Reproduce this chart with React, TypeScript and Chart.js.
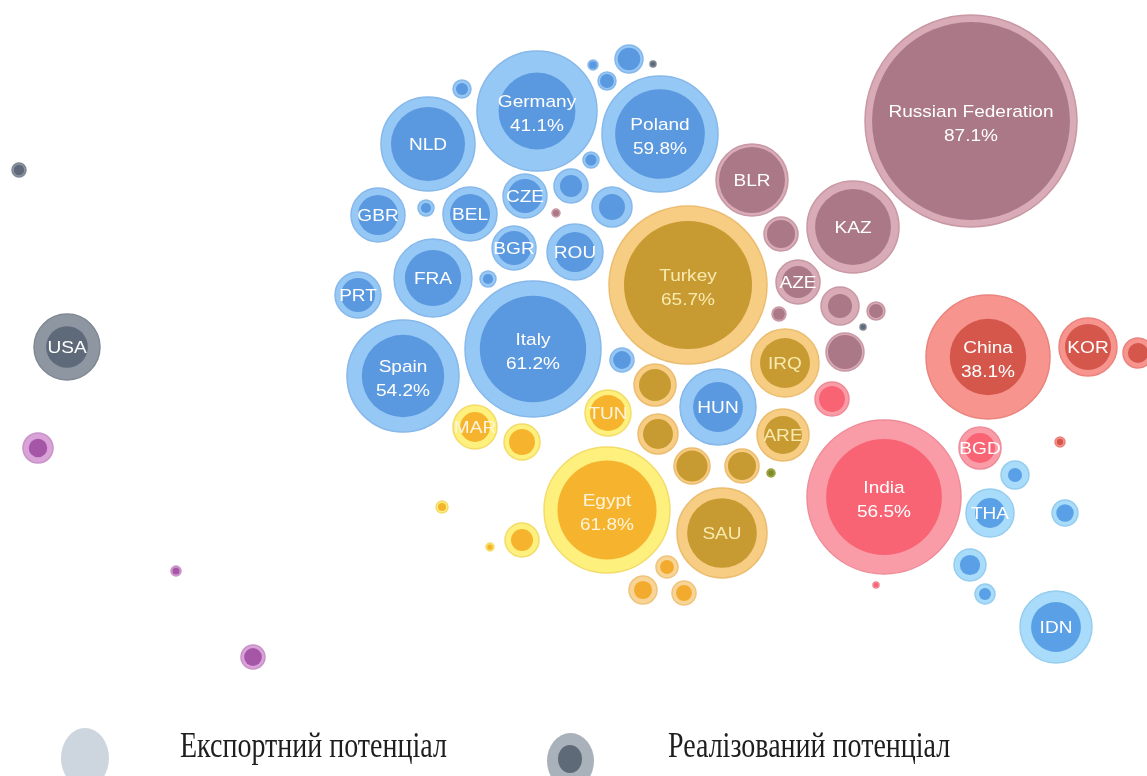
import React, { useEffect, useRef } from "react";
import { Chart, registerables } from "chart.js";

Chart.register(...registerables);

// ---- data ----
const countries = [
  "Russian Federation", "Germany", "Poland", "NLD", "", "GBR", "", "BEL", "CZE", "", "", "", "", "BGR", "ROU", "FRA", "", "PRT",
  "", "", "", "", "Italy", "Spain", "", "MAR", "", "Egypt", "", "", "", "TUN", "", "", "", "", "", "HUN", "ARE", "SAU",
  "", "", "", "Turkey", "BLR", "", "KAZ", "AZE", "", "", "", "", "IRQ", "", "", "China", "KOR", "", "India", "BGD", "",
  "", "THA", "", "", "", "IDN", "", "", "USA", "", "", "",
];
const regions = [
  "cis", "eu", "eu", "eu", "eu", "eu", "eu", "eu", "eu", "eu", "eu", "eu", "cis", "eu", "eu", "eu", "eu", "eu",
  "eu", "eu", "eu", "na", "eu", "eu", "eu", "af", "af", "af", "af", "af", "af", "af", "me", "me", "me", "me", "ol", "eu", "me", "me",
  "gulf", "gulf", "gulf", "me", "cis", "cis", "cis", "cis", "cis", "cis", "cis", "na", "me", "cis", "sa", "ea", "ea", "ea", "sa", "sa", "ea",
  "sea", "sea", "sea", "sea", "sea", "sea", "sa", "na", "na", "la", "la", "la",
];
const xValues = [
  971, 537, 660, 428, 462, 378, 426, 470, 525, 571, 612, 591, 556, 514, 575, 433, 488, 358,
  629, 593, 607, 653, 533, 403, 622, 475, 522, 607, 442, 490, 522, 608, 655, 658, 692, 742, 771, 718, 783, 722,
  667, 643, 684, 688, 752, 781, 853, 798, 779, 840, 876, 863, 785, 845, 832, 988, 1088, 1138, 884, 980, 1060,
  1015, 990, 1065, 970, 985, 1056, 876, 19, 67, 38, 176, 253,
];
const yValues = [
  121, 111, 134, 144, 89, 215, 208, 214, 196, 186, 207, 160, 213, 248, 252, 278, 279, 295,
  59, 65, 81, 64, 349, 376, 360, 427, 442, 510, 507, 547, 540, 413, 385, 434, 466, 466, 473, 407, 435, 533,
  567, 590, 593, 285, 180, 234, 227, 282, 314, 306, 311, 327, 363, 352, 399, 357, 347, 353, 497, 448, 442,
  475, 513, 513, 565, 594, 627, 585, 170, 347, 448, 571, 657,
];
// export potential (bubble size)
const exportPotential = [
  106, 60, 58, 47, 9, 27, 8, 27, 22, 17, 20, 8, 4, 22, 28, 39, 8, 23,
  14, 5, 9, 3, 68, 56, 12, 22, 18, 63, 6, 4, 17, 23, 21, 20, 18, 17, 4, 38, 26, 45,
  11, 14, 12, 79, 36, 17, 46, 22, 7, 19, 9, 3, 34, 19, 17, 62, 29, 15, 77, 21, 5,
  14, 24, 13, 16, 10, 36, 3, 7, 33, 15, 5, 12,
];
// realized share of potential, %
const realizedShare = [
  87.1, 41.1, 59.8, 62, 45, 55, 40, 55, 60, 42, 42, 50, 60, 60, 51, 52, 40, 55,
  65, 60, 60, 60, 61.2, 54.2, 55, 46, 52, 61.8, 45, 50, 42, 61, 58, 56, 75, 68, 50, 43, 53, 60,
  40, 42, 44, 65.7, 84, 68, 68, 53, 70, 40, 60, 60, 54, 80, 58, 38.1, 63, 45, 56.5, 51, 40,
  25, 39, 45, 40, 36, 48, 60, 55, 40, 38, 50, 55,
];
const shareShown = [
  "87.1%", "41.1%", "59.8%", "", "", "", "", "", "", "", "", "", "", "", "", "", "", "",
  "", "", "", "", "61.2%", "54.2%", "", "", "", "61.8%", "", "", "", "", "", "", "", "", "", "", "", "",
  "", "", "", "65.7%", "", "", "", "", "", "", "", "", "", "", "", "38.1%", "", "", "56.5%", "", "",
  "", "", "", "", "", "", "", "", "", "", "", "",
];

const legendLabels = ["Експортний потенціал", "Реалізований потенціал"];

// ---- styles ----
const palette: Record<string, { outer: string; border: string; inner: string; text: string }> = {
  eu: { outer: "#96c8f6", border: "#86b8ea", inner: "#5a98df", text: "#ffffff" },
  me: { outer: "#f7cd84", border: "#ebbd70", inner: "#c89a32", text: "#f8eaae" },
  af: { outer: "#fdf07c", border: "#f3dc6a", inner: "#f6b42e", text: "#fff4dc" },
  gulf: { outer: "#f8d596", border: "#efc47e", inner: "#f2ab2e", text: "#ffffff" },
  ol: { outer: "#a8b04a", border: "#98a040", inner: "#7c8a28", text: "#ffffff" },
  cis: { outer: "#d8abb6", border: "#c898a4", inner: "#aa7887", text: "#ffffff" },
  ea: { outer: "#f7948e", border: "#ea837e", inner: "#d5574c", text: "#ffffff" },
  sa: { outer: "#fa9ca7", border: "#ee8c98", inner: "#f86474", text: "#ffffff" },
  sea: { outer: "#a8dcfa", border: "#96cdee", inner: "#5aa0e6", text: "#ffffff" },
  na: { outer: "#8e96a2", border: "#808894", inner: "#5e6a79", text: "#ffffff" },
  la: { outer: "#d9a2d8", border: "#c993c8", inner: "#a556a6", text: "#ffffff" },
};

const labelPlugin = {
  id: "bubbleLabels",
  afterDatasetsDraw(chart: any) {
    const meta = chart.getDatasetMeta(1);
    const ctx = chart.ctx;
    ctx.save();
    ctx.textAlign = "center";
    ctx.textBaseline = "middle";
    ctx.font = "17px 'Liberation Sans', Arial, sans-serif";
    meta.data.forEach((el: any, i: number) => {
      const name = countries[i];
      if (!name) return;
      const pct = shareShown[i];
      ctx.fillStyle = palette[regions[i]].text;
      ctx.save();
      ctx.translate(el.x, el.y);
      ctx.scale(1.12, 1);
      if (pct) {
        ctx.fillText(name, 0, -9);
        ctx.fillText(pct, 0, 15);
      } else {
        ctx.fillText(name, 0, 1);
      }
      ctx.restore();
    });
    ctx.restore();
  },
};

export default function App() {
  const ref = useRef<HTMLCanvasElement | null>(null);

  useEffect(() => {
    if (!ref.current) return;
    const outerData = xValues.map((x, i) => ({ x, y: yValues[i], r: exportPotential[i] }));
    const innerData = xValues.map((x, i) => ({
      x,
      y: yValues[i],
      r: exportPotential[i] * Math.sqrt(realizedShare[i] / 100),
    }));
    const chart = new Chart(ref.current, {
      type: "bubble",
      data: {
        datasets: [
          {
            label: legendLabels[0],
            data: outerData,
            backgroundColor: regions.map((r) => palette[r].outer),
            borderColor: regions.map((r) => palette[r].border),
            borderWidth: 1.5,
            order: 2,
            clip: false as any,
          },
          {
            label: legendLabels[1],
            data: innerData,
            backgroundColor: regions.map((r) => palette[r].inner),
            borderWidth: 0,
            order: 1,
            clip: false as any,
          },
        ],
      },
      options: {
        responsive: false,
        animation: false,
        layout: { padding: 0, autoPadding: false },
        plugins: { legend: { display: false }, tooltip: { enabled: false } },
        scales: {
          x: { type: "linear", min: 0, max: 1147, display: false },
          y: { type: "linear", min: 0, max: 776, reverse: true, display: false },
        },
      },
      plugins: [labelPlugin],
    });
    return () => chart.destroy();
  }, []);

  const textStyle: React.CSSProperties = {
    position: "absolute",
    top: 728,
    fontFamily: "'Liberation Serif', 'Times New Roman', serif",
    fontSize: 28,
    color: "#1e1e1e",
    transform: "scaleY(1.25)",
    transformOrigin: "left top",
    whiteSpace: "nowrap",
    lineHeight: "28px",
  };

  return (
    <div style={{ position: "fixed", left: 0, top: 0, width: 1147, height: 776, background: "#fff", overflow: "hidden" }}>
      <canvas ref={ref} width={1147} height={776} style={{ position: "absolute", left: 0, top: 0 }} />
      <div style={{ position: "absolute", left: 61, top: 728, width: 48, height: 60, borderRadius: "50%", background: "#cdd5de" }} />
      <div style={{ ...textStyle, left: 180 }}>{legendLabels[0]}</div>
      <div style={{ position: "absolute", left: 547, top: 733, width: 47, height: 56, borderRadius: "50%", background: "#a9b1bb" }} />
      <div style={{ position: "absolute", left: 558, top: 745, width: 24, height: 28, borderRadius: "50%", background: "#5f6a78" }} />
      <div style={{ ...textStyle, left: 668 }}>{legendLabels[1]}</div>
    </div>
  );
}
